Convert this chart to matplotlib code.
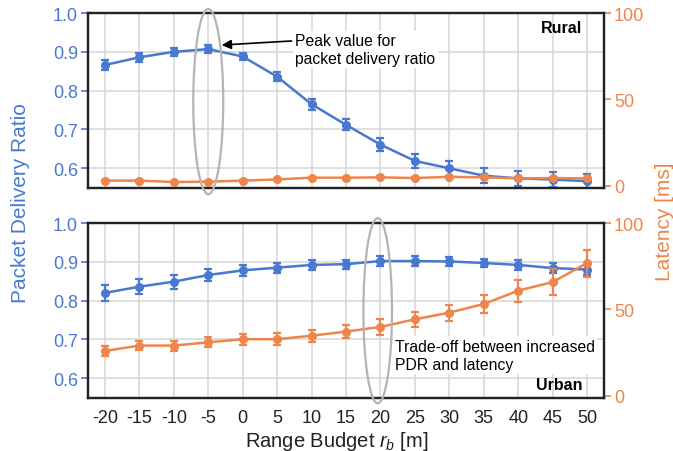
import matplotlib
matplotlib.use("Agg")
import matplotlib.pyplot as plt
import matplotlib.transforms as mtransforms
from matplotlib.patches import Ellipse
import numpy as np

plt.rcParams['font.family'] = ['Liberation Sans', 'DejaVu Sans']
plt.rcParams['mathtext.fontset'] = 'custom'
plt.rcParams['mathtext.rm'] = 'Liberation Sans'
plt.rcParams['mathtext.it'] = 'Liberation Sans:italic'

# ---- data ----
range_budget = [-20, -15, -10, -5, 0, 5, 10, 15, 20, 25, 30, 35, 40, 45, 50]

rural_pdr = [0.866, 0.886, 0.900, 0.907, 0.888, 0.836, 0.765, 0.712, 0.661,
             0.619, 0.600, 0.581, 0.574, 0.571, 0.567]
rural_pdr_err = [0.012, 0.011, 0.010, 0.010, 0.010, 0.012, 0.014, 0.014, 0.017,
                 0.018, 0.019, 0.019, 0.020, 0.020, 0.019]
rural_lat = [2.9, 2.9, 2.1, 2.3, 2.9, 3.6, 4.6, 4.6, 4.8, 4.4, 5.1, 4.8, 4.2, 4.4, 4.2]
rural_lat_err = [0.4, 0.4, 0.4, 0.4, 0.4, 0.4, 0.5, 0.5, 0.5, 0.5, 0.5, 0.5, 0.5, 0.5, 0.5]

urban_pdr = [0.820, 0.836, 0.849, 0.866, 0.878, 0.885, 0.892, 0.894, 0.902,
             0.902, 0.901, 0.897, 0.892, 0.884, 0.880]
urban_pdr_err = [0.020, 0.020, 0.018, 0.016, 0.014, 0.013, 0.013, 0.012, 0.012,
                 0.012, 0.011, 0.011, 0.012, 0.012, 0.015]
urban_lat = [25.9, 29.0, 29.0, 30.9, 32.7, 32.7, 34.7, 37.1, 39.8, 44.2, 48.1,
             53.1, 60.8, 65.8, 76.8]
urban_lat_err = [2.7, 2.8, 2.9, 3.0, 3.2, 3.3, 3.4, 3.6, 4.6, 4.5, 4.6, 5.2, 6.4, 7.4, 7.8]

blue = '#4878d0'
orange = '#ee854a'
grid_c = '#d6d6d6'
ell_c = '#b4b4b4'

fig = plt.figure(figsize=(6.73, 4.52), dpi=100)
L, R = 0.1303, 0.898
ax_top = fig.add_axes([L, 0.5825, R - L, 0.969 - 0.5825])
ax_bot = fig.add_axes([L, 0.1179, R - L, 0.5044 - 0.1179])

xs = np.arange(len(range_budget))

def draw(ax, pdr, pdr_err, lat, lat_err, label, show_x):
    ax2 = ax.twinx()
    ax.set_zorder(1)
    ax2.set_zorder(2)
    ax2.patch.set_visible(False)
    ax.set_axisbelow(True)
    ax.grid(True, color=grid_c, lw=1.1)
    ax.errorbar(xs, pdr, yerr=pdr_err, color=blue, lw=1.8, marker='o', ms=5.5,
                capsize=3, capthick=1.6, elinewidth=1.6, zorder=3)
    ax2.errorbar(xs, lat, yerr=lat_err, color=orange, lw=1.8, marker='o', ms=5.5,
                 capsize=3, capthick=1.6, elinewidth=1.6, zorder=3)
    ax.set_xlim(-0.5, len(xs) - 0.5)
    ax.set_ylim(0.55, 1.0)
    ax.set_yticks([0.6, 0.7, 0.8, 0.9, 1.0])
    ax2.set_ylim(-1.2, 100)
    ax2.set_yticks([0, 50, 100])
    ax.set_xticks(xs)
    if show_x:
        ax.set_xticklabels([str(v) for v in range_budget])
    else:
        ax.set_xticklabels([])
    ax.tick_params(axis='x', length=0, labelsize=13, colors='#222222', pad=8)
    ax.tick_params(axis='y', colors=blue, labelsize=13, length=5, width=1.2, pad=2)
    ax2.tick_params(axis='y', colors=orange, labelsize=13, length=5, width=1.2, pad=2)
    for a in (ax, ax2):
        for s in a.spines.values():
            s.set_color('#222222')
            s.set_linewidth(1.6)
    ax2.text(0.957, 0.89 if label == 'Rural' else 0.05, label, transform=ax.transAxes,
             ha='right', va='baseline', fontsize=11.5, fontweight='bold',
             color='black', zorder=6)
    return ax2

ax2_top = draw(ax_top, rural_pdr, rural_pdr_err, rural_lat, rural_lat_err, 'Rural', False)
ax2_bot = draw(ax_bot, urban_pdr, urban_pdr_err, urban_lat, urban_lat_err, 'Urban', True)

# ellipses
tr_top = mtransforms.blended_transform_factory(ax_top.transData, ax_top.transAxes)
ax2_top.add_patch(Ellipse((3.0, 0.493), 0.87, 1.06, transform=tr_top, fill=False,
                          ec=ell_c, lw=1.6, clip_on=False, zorder=5))
tr_bot = mtransforms.blended_transform_factory(ax_bot.transData, ax_bot.transAxes)
ax2_bot.add_patch(Ellipse((7.92, 0.498), 0.83, 1.06, transform=tr_bot, fill=False,
                          ec=ell_c, lw=1.6, clip_on=False, zorder=5))

# annotations
ax2_top.text(5.52, 0.906, 'Peak value for\npacket delivery ratio',
             transform=ax_top.transData, ha='left', va='center',
             fontsize=11.3, color='black', linespacing=1.25,
             bbox=dict(boxstyle='square,pad=0.15', fc='white', ec='none'), zorder=6)
ax2_top.annotate('', xy=(3.39, 0.9175), xycoords=ax_top.transData,
                 xytext=(5.42, 0.928), textcoords=ax_top.transData,
                 arrowprops=dict(arrowstyle='-|>', color='black', lw=1.2,
                                 mutation_scale=14, shrinkA=0, shrinkB=0),
                 zorder=6)
ax2_bot.text(8.42, 0.66, 'Trade-off between increased\nPDR and latency',
             transform=ax_bot.transData, ha='left', va='center',
             fontsize=11.3, color='black', linespacing=1.25,
             bbox=dict(boxstyle='square,pad=0.15', fc='white', ec='none'), zorder=6)

fig.text(0.03, 0.551, 'Packet Delivery Ratio', rotation=90, ha='center', va='center',
         fontsize=15, color=blue)
fig.text(0.987, 0.509, 'Latency [ms]', rotation=90, ha='center', va='center',
         fontsize=15, color=orange)
fig.text(0.501, 0.011, r'Range Budget $r_b$ [m]', ha='center', va='baseline',
         fontsize=14.5, color='#222222')

fig.savefig('out.png', dpi=100)
